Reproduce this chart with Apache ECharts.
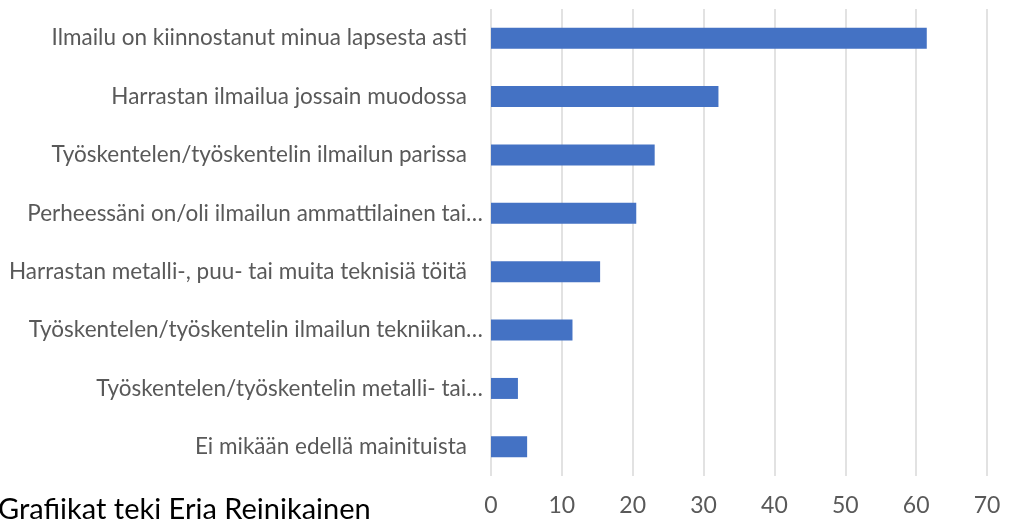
<!DOCTYPE html>
<html>
<head>
<meta charset="utf-8">
<script src="https://cdn.jsdelivr.net/npm/echarts@6/dist/echarts.min.js"></script>
<style>
  html, body { margin: 0; padding: 0; background: #ffffff; }
  #chart { width: 1018px; height: 519px; }
</style>
</head>
<body>
<div id="chart"></div>
<script>
// categories top to bottom, as in the picture
const categories = [
  'Ilmailu on kiinnostanut minua lapsesta asti',
  'Harrastan ilmailua jossain muodossa',
  'Työskentelen/työskentelin ilmailun parissa',
  'Perheessäni on/oli ilmailun ammattilainen tai…',
  'Harrastan metalli-, puu- tai muita teknisiä töitä',
  'Työskentelen/työskentelin ilmailun tekniikan…',
  'Työskentelen/työskentelin metalli- tai…',
  'Ei mikään edellä mainituista'
];
const values = [61.5, 32.1, 23.1, 20.5, 15.4, 11.5, 3.8, 5.1];
const xTicks = { min: 0, max: 70, interval: 10 };
const footnote = 'Grafiikat teki Erja Reinikainen';

const chart = echarts.init(document.getElementById('chart'));
chart.setOption({
  animation: false,
  grid: { left: 491, right: 31, top: 9, bottom: 43 },
  xAxis: {
    type: 'value',
    min: xTicks.min,
    max: xTicks.max,
    interval: xTicks.interval,
    axisLine: { show: false },
    axisTick: { show: false },
    splitLine: { lineStyle: { color: '#d9d9d9', width: 1.5 } },
    axisLabel: {
      color: '#595959',
      fontFamily: 'Lato',
      fontSize: 23,
      margin: 18
    }
  },
  yAxis: {
    type: 'category',
    data: categories,
    inverse: true,
    axisLine: { show: false },
    axisTick: { show: false },
    axisLabel: {
      color: '#595959',
      fontFamily: 'Lato',
      fontSize: 22.5,
      margin: 8,
      formatter: function (v) {
        // labels that Excel cut with an ellipsis sit further right
        return v.endsWith('…') ? v : v + '{gap|}';
      },
      rich: { gap: { width: 16 } }
    }
  },
  series: [{
    type: 'bar',
    data: values,
    barWidth: 21,
    itemStyle: { color: '#4472c4' }
  }],
  graphic: [{
    type: 'text',
    left: -2,
    top: 495,
    style: {
      text: footnote,
      fill: '#000000',
      font: '29px Lato'
    }
  }]
});
</script>
</body>
</html>
